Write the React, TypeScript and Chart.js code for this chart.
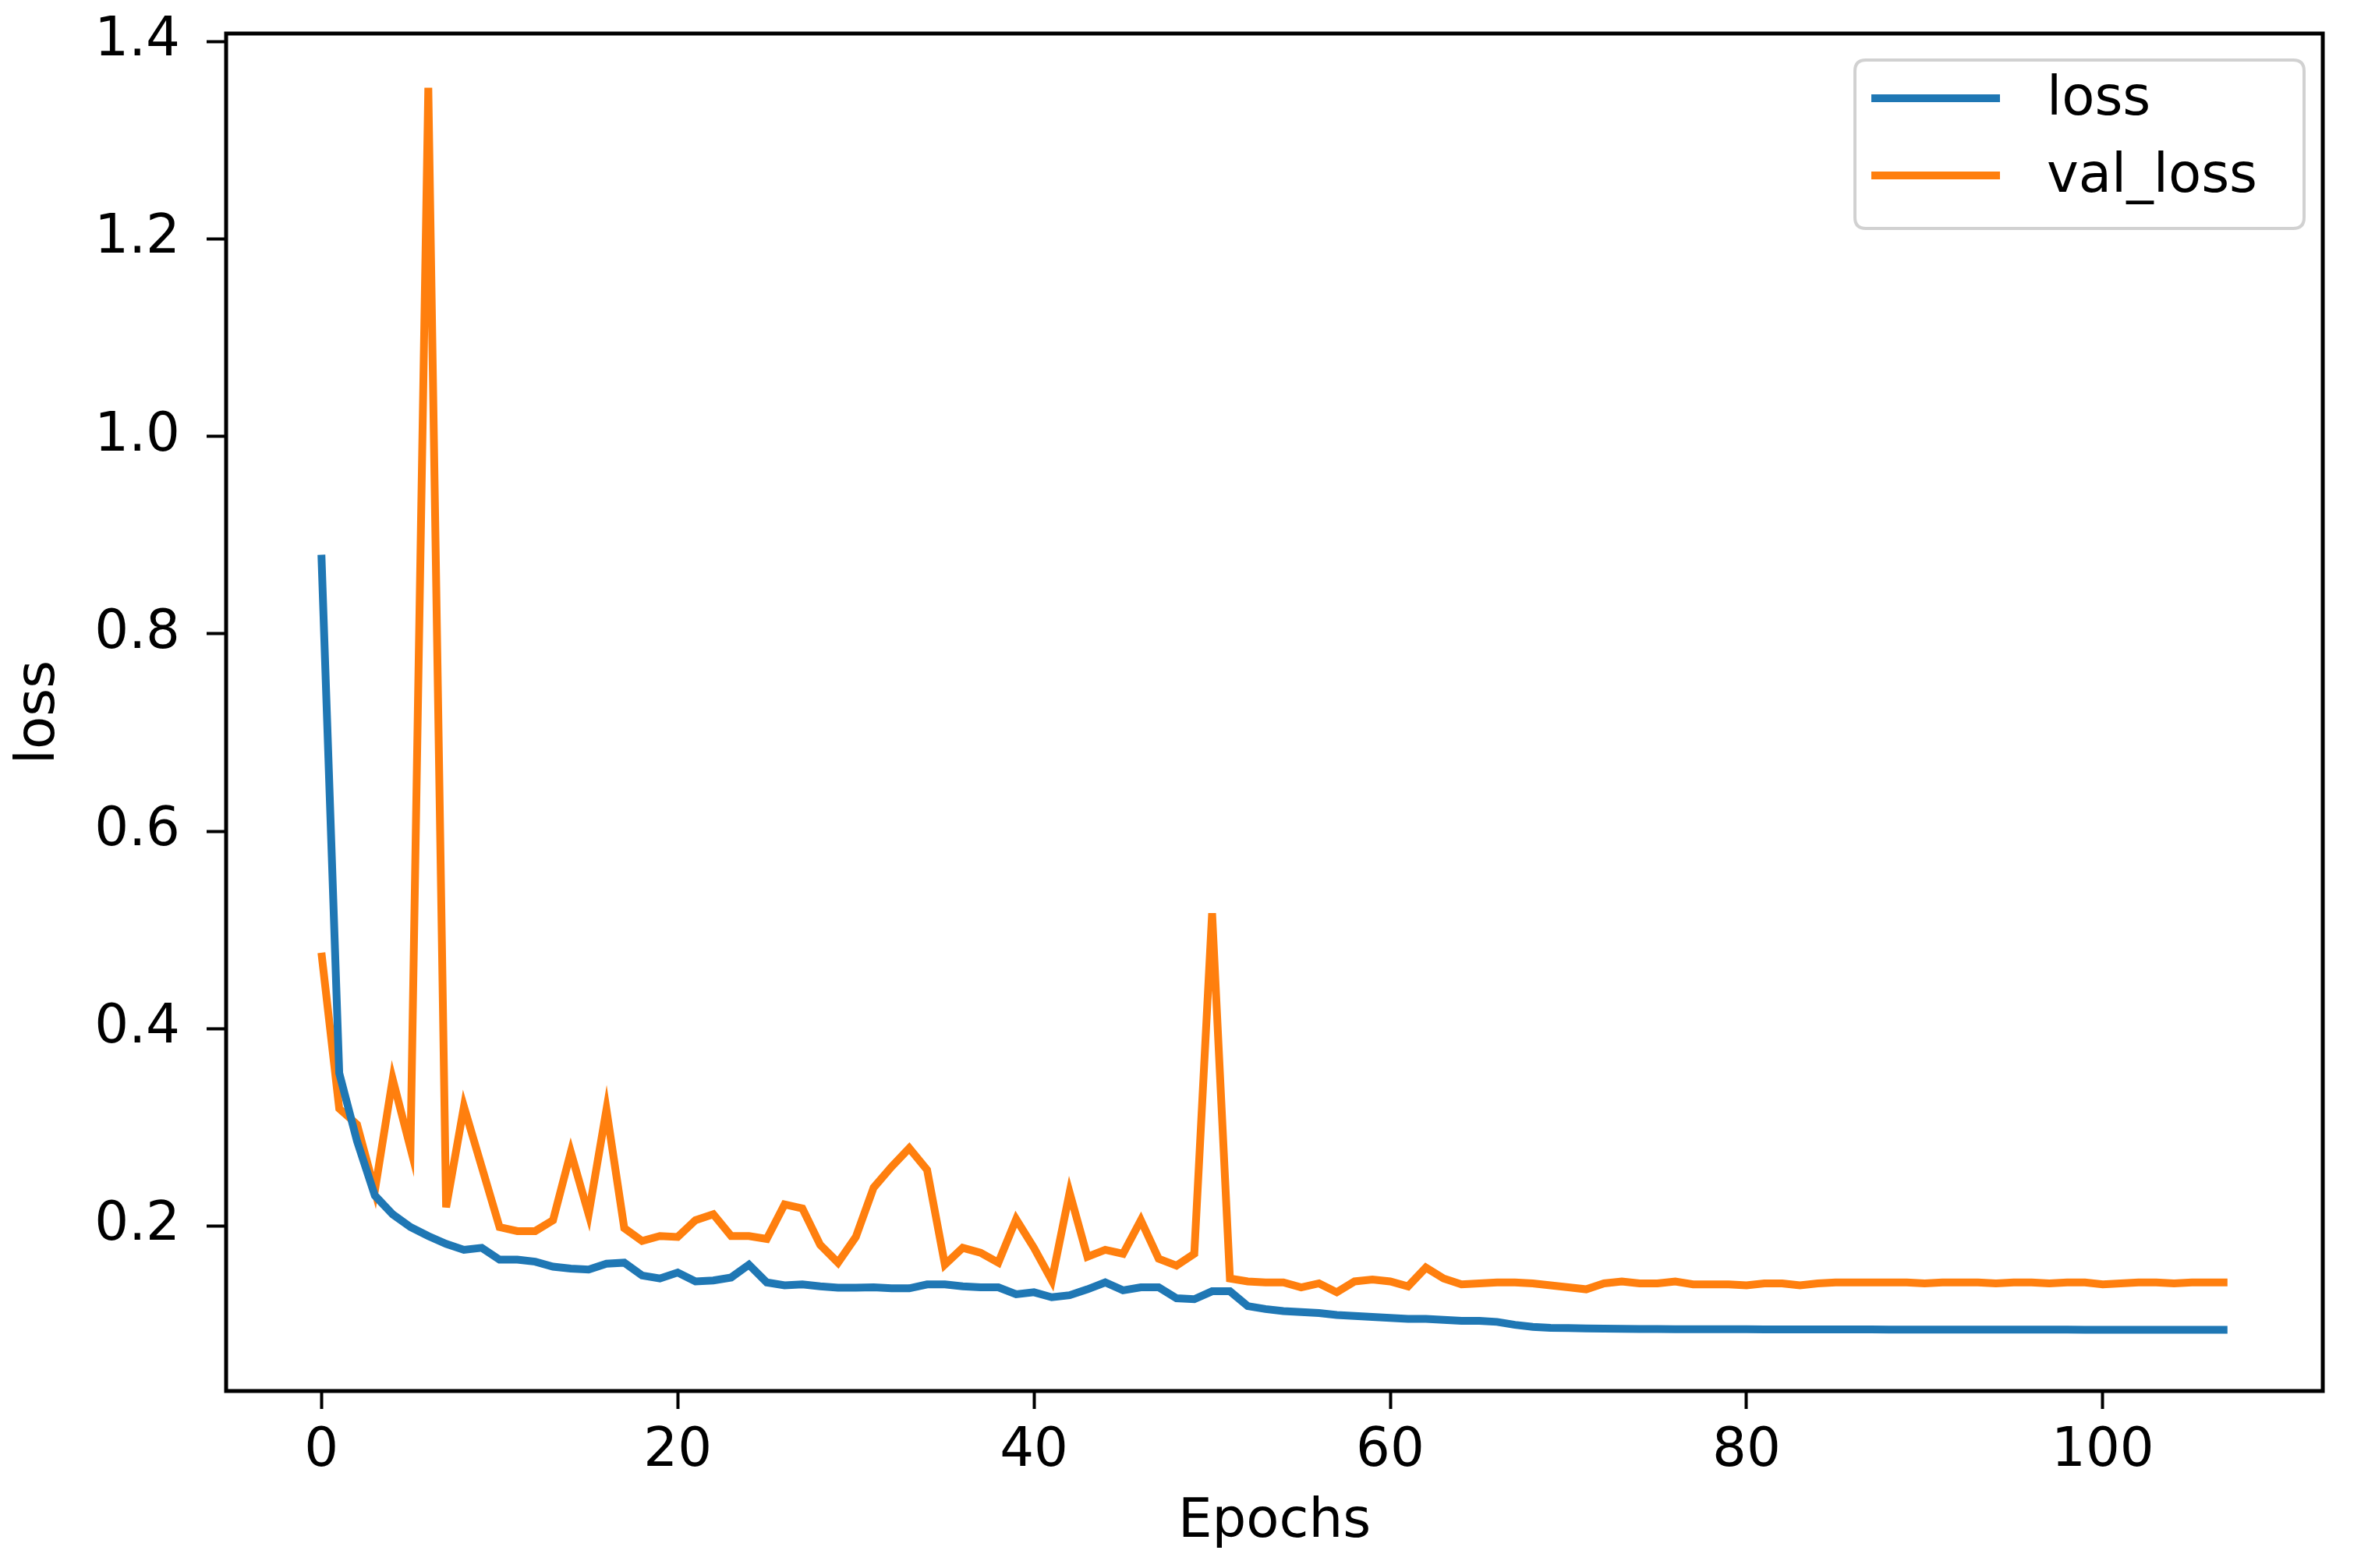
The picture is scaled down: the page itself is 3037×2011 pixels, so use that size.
import React, { useEffect, useRef } from "react";
import { Chart, registerables } from "chart.js";

Chart.register(...registerables);

const lossValues = [
  0.88, 0.355, 0.286, 0.231, 0.212, 0.199, 0.19, 0.182, 0.176, 0.178,
  0.166, 0.166, 0.164, 0.159, 0.157, 0.156, 0.162, 0.163, 0.15, 0.147,
  0.153, 0.144, 0.145, 0.148, 0.161, 0.143, 0.14, 0.141, 0.139, 0.1376,
  0.1376, 0.138, 0.137, 0.137, 0.141, 0.141, 0.139, 0.138, 0.138, 0.131,
  0.133, 0.128, 0.13, 0.136, 0.143, 0.135, 0.138, 0.138, 0.127, 0.126,
  0.134, 0.134, 0.119, 0.116, 0.114, 0.113, 0.112, 0.11, 0.109, 0.108,
  0.107, 0.106, 0.106, 0.105, 0.104, 0.104, 0.103, 0.1, 0.098, 0.097,
  0.0968, 0.0963, 0.0961, 0.0959, 0.0958, 0.0957, 0.0956, 0.0956, 0.0955, 0.0955,
  0.0955, 0.0954, 0.0954, 0.0954, 0.0953, 0.0953, 0.0953, 0.0953, 0.0952, 0.0952,
  0.0952, 0.0952, 0.0952, 0.0951, 0.0951, 0.0951, 0.0951, 0.0951, 0.0951, 0.095,
  0.095, 0.095, 0.095, 0.095, 0.095, 0.095, 0.095, 0.095,
];

const valLossValues = [
  0.477, 0.319, 0.303, 0.236, 0.349, 0.279, 1.353, 0.219, 0.321, 0.26,
  0.199, 0.195, 0.195, 0.206, 0.275, 0.212, 0.318, 0.198, 0.185, 0.19,
  0.189, 0.206, 0.212, 0.19, 0.19, 0.187, 0.222, 0.218, 0.181, 0.163,
  0.189, 0.239, 0.26, 0.279, 0.257, 0.161, 0.178, 0.173, 0.163, 0.207,
  0.178, 0.145, 0.234, 0.169, 0.176, 0.172, 0.206, 0.167, 0.16, 0.172,
  0.517, 0.147, 0.144, 0.143, 0.143, 0.138, 0.142, 0.133, 0.144, 0.146,
  0.144, 0.139, 0.158, 0.147, 0.141, 0.142, 0.143, 0.143, 0.142, 0.14,
  0.138, 0.136, 0.142, 0.144, 0.142, 0.142, 0.144, 0.141, 0.141, 0.141,
  0.14, 0.142, 0.142, 0.14, 0.142, 0.143, 0.143, 0.143, 0.143, 0.143,
  0.142, 0.143, 0.143, 0.143, 0.142, 0.143, 0.143, 0.142, 0.143, 0.143,
  0.141, 0.142, 0.143, 0.143, 0.142, 0.143, 0.143, 0.143,
];

const seriesNames = ["loss", "val_loss"];
const seriesColors = ["#1f77b4", "#ff7f0e"];
const xTickValues = [0, 20, 40, 60, 80, 100];
const yTickValues = [0.2, 0.4, 0.6, 0.8, 1.0, 1.2, 1.4];
const xAxisTitle = "Epochs";
const yAxisTitle = "loss";

const FONT = "'DejaVu Sans', sans-serif";
const FS = 69;

const framePlugin = {
  id: "mplFrame",
  beforeDraw(chart: any) {
    const { ctx } = chart;
    ctx.save();
    ctx.fillStyle = "#ffffff";
    ctx.fillRect(0, 0, chart.width, chart.height);
    ctx.restore();
  },
  afterDraw(chart: any) {
    const { ctx, chartArea } = chart;
    const { left, right, top, bottom } = chartArea;
    ctx.save();
    ctx.strokeStyle = "#000000";
    ctx.lineWidth = 5;
    ctx.strokeRect(left, top, right - left, bottom - top);

    // legend (matplotlib-style, upper right inside axes)
    const boxW = 576;
    const boxH = 216;
    const bx = right - 24 - boxW;
    const by = top + 34;
    const r = 14;
    ctx.beginPath();
    ctx.moveTo(bx + r, by);
    ctx.lineTo(bx + boxW - r, by);
    ctx.quadraticCurveTo(bx + boxW, by, bx + boxW, by + r);
    ctx.lineTo(bx + boxW, by + boxH - r);
    ctx.quadraticCurveTo(bx + boxW, by + boxH, bx + boxW - r, by + boxH);
    ctx.lineTo(bx + r, by + boxH);
    ctx.quadraticCurveTo(bx, by + boxH, bx, by + boxH - r);
    ctx.lineTo(bx, by + r);
    ctx.quadraticCurveTo(bx, by, bx + r, by);
    ctx.closePath();
    ctx.fillStyle = "rgba(255,255,255,0.8)";
    ctx.fill();
    ctx.strokeStyle = "rgba(204,204,204,0.9)";
    ctx.lineWidth = 4;
    ctx.stroke();

    chart.data.datasets.forEach((ds: any, i: number) => {
      const ly = by + 49 + i * 99;
      ctx.beginPath();
      ctx.moveTo(bx + 21, ly);
      ctx.lineTo(bx + 186, ly);
      ctx.strokeStyle = ds.borderColor;
      ctx.lineWidth = 10;
      ctx.lineCap = "butt";
      ctx.stroke();
      ctx.fillStyle = "#000000";
      ctx.font = `${FS}px ${FONT}`;
      ctx.textAlign = "left";
      ctx.textBaseline = "middle";
      ctx.fillText(ds.label, bx + 246, ly + 3);
    });
    ctx.restore();
  },
};

export default function App() {
  const ref = useRef<HTMLCanvasElement>(null);

  useEffect(() => {
    if (!ref.current) return;
    const epochs = lossValues.map((_, i) => i);
    const chart = new Chart(ref.current, {
      type: "line",
      data: {
        labels: epochs,
        datasets: [
          {
            label: seriesNames[0],
            data: lossValues,
            borderColor: seriesColors[0],
            backgroundColor: seriesColors[0],
            borderWidth: 10,
            pointRadius: 0,
            tension: 0,
            fill: false,
          },
          {
            label: seriesNames[1],
            data: valLossValues,
            borderColor: seriesColors[1],
            backgroundColor: seriesColors[1],
            borderWidth: 10,
            pointRadius: 0,
            tension: 0,
            fill: false,
          },
        ],
      },
      options: {
        animation: false,
        responsive: false,
        devicePixelRatio: 1,
        layout: { padding: { top: 43, right: 58, left: 0, bottom: 0 } },
        plugins: {
          legend: { display: false },
          tooltip: { enabled: false },
        },
        scales: {
          x: {
            type: "linear",
            min: -5.35,
            max: 112.35,
            afterFit: (scale: any) => {
              scale.height = 227;
              scale.paddingLeft = 0;
              scale.paddingRight = 0;
            },
            afterBuildTicks: (scale: any) => {
              scale.ticks = xTickValues.map((v) => ({ value: v }));
            },
            ticks: {
              font: { family: FONT, size: FS },
              color: "#000000",
              padding: 14,
              maxRotation: 0,
              callback: (v: any) => String(v),
            },
            grid: {
              display: true,
              drawOnChartArea: false,
              drawTicks: true,
              tickLength: 23,
              tickWidth: 4,
              tickColor: "#000000",
            },
            border: { display: false },
            title: {
              display: true,
              text: xAxisTitle,
              color: "#000000",
              font: { family: FONT, size: FS },
              padding: { top: 0, bottom: 17 },
            },
          },
          y: {
            type: "linear",
            min: 0.033,
            max: 1.408,
            afterFit: (scale: any) => {
              scale.width = 290;
              scale.paddingTop = 0;
              scale.paddingBottom = 0;
            },
            afterBuildTicks: (scale: any) => {
              scale.ticks = yTickValues.map((v) => ({ value: v }));
            },
            ticks: {
              font: { family: FONT, size: FS },
              color: "#000000",
              padding: 34,
              callback: (v: any) => Number(v).toFixed(1),
            },
            grid: {
              display: true,
              drawOnChartArea: false,
              drawTicks: true,
              tickLength: 25,
              tickWidth: 4,
              tickColor: "#000000",
            },
            border: { display: false },
            title: {
              display: true,
              text: yAxisTitle,
              color: "#000000",
              font: { family: FONT, size: FS },
              padding: { top: 10, bottom: 0 },
            },
          },
        },
      },
      plugins: [framePlugin],
    });
    return () => chart.destroy();
  }, []);

  return (
    <div
      style={{
        position: "fixed",
        left: 0,
        top: 0,
        width: 3037,
        height: 2011,
        background: "#ffffff",
      }}
    >
      <canvas
        ref={ref}
        width={3037}
        height={2011}
        style={{ display: "block", width: 3037, height: 2011 }}
      />
    </div>
  );
}
